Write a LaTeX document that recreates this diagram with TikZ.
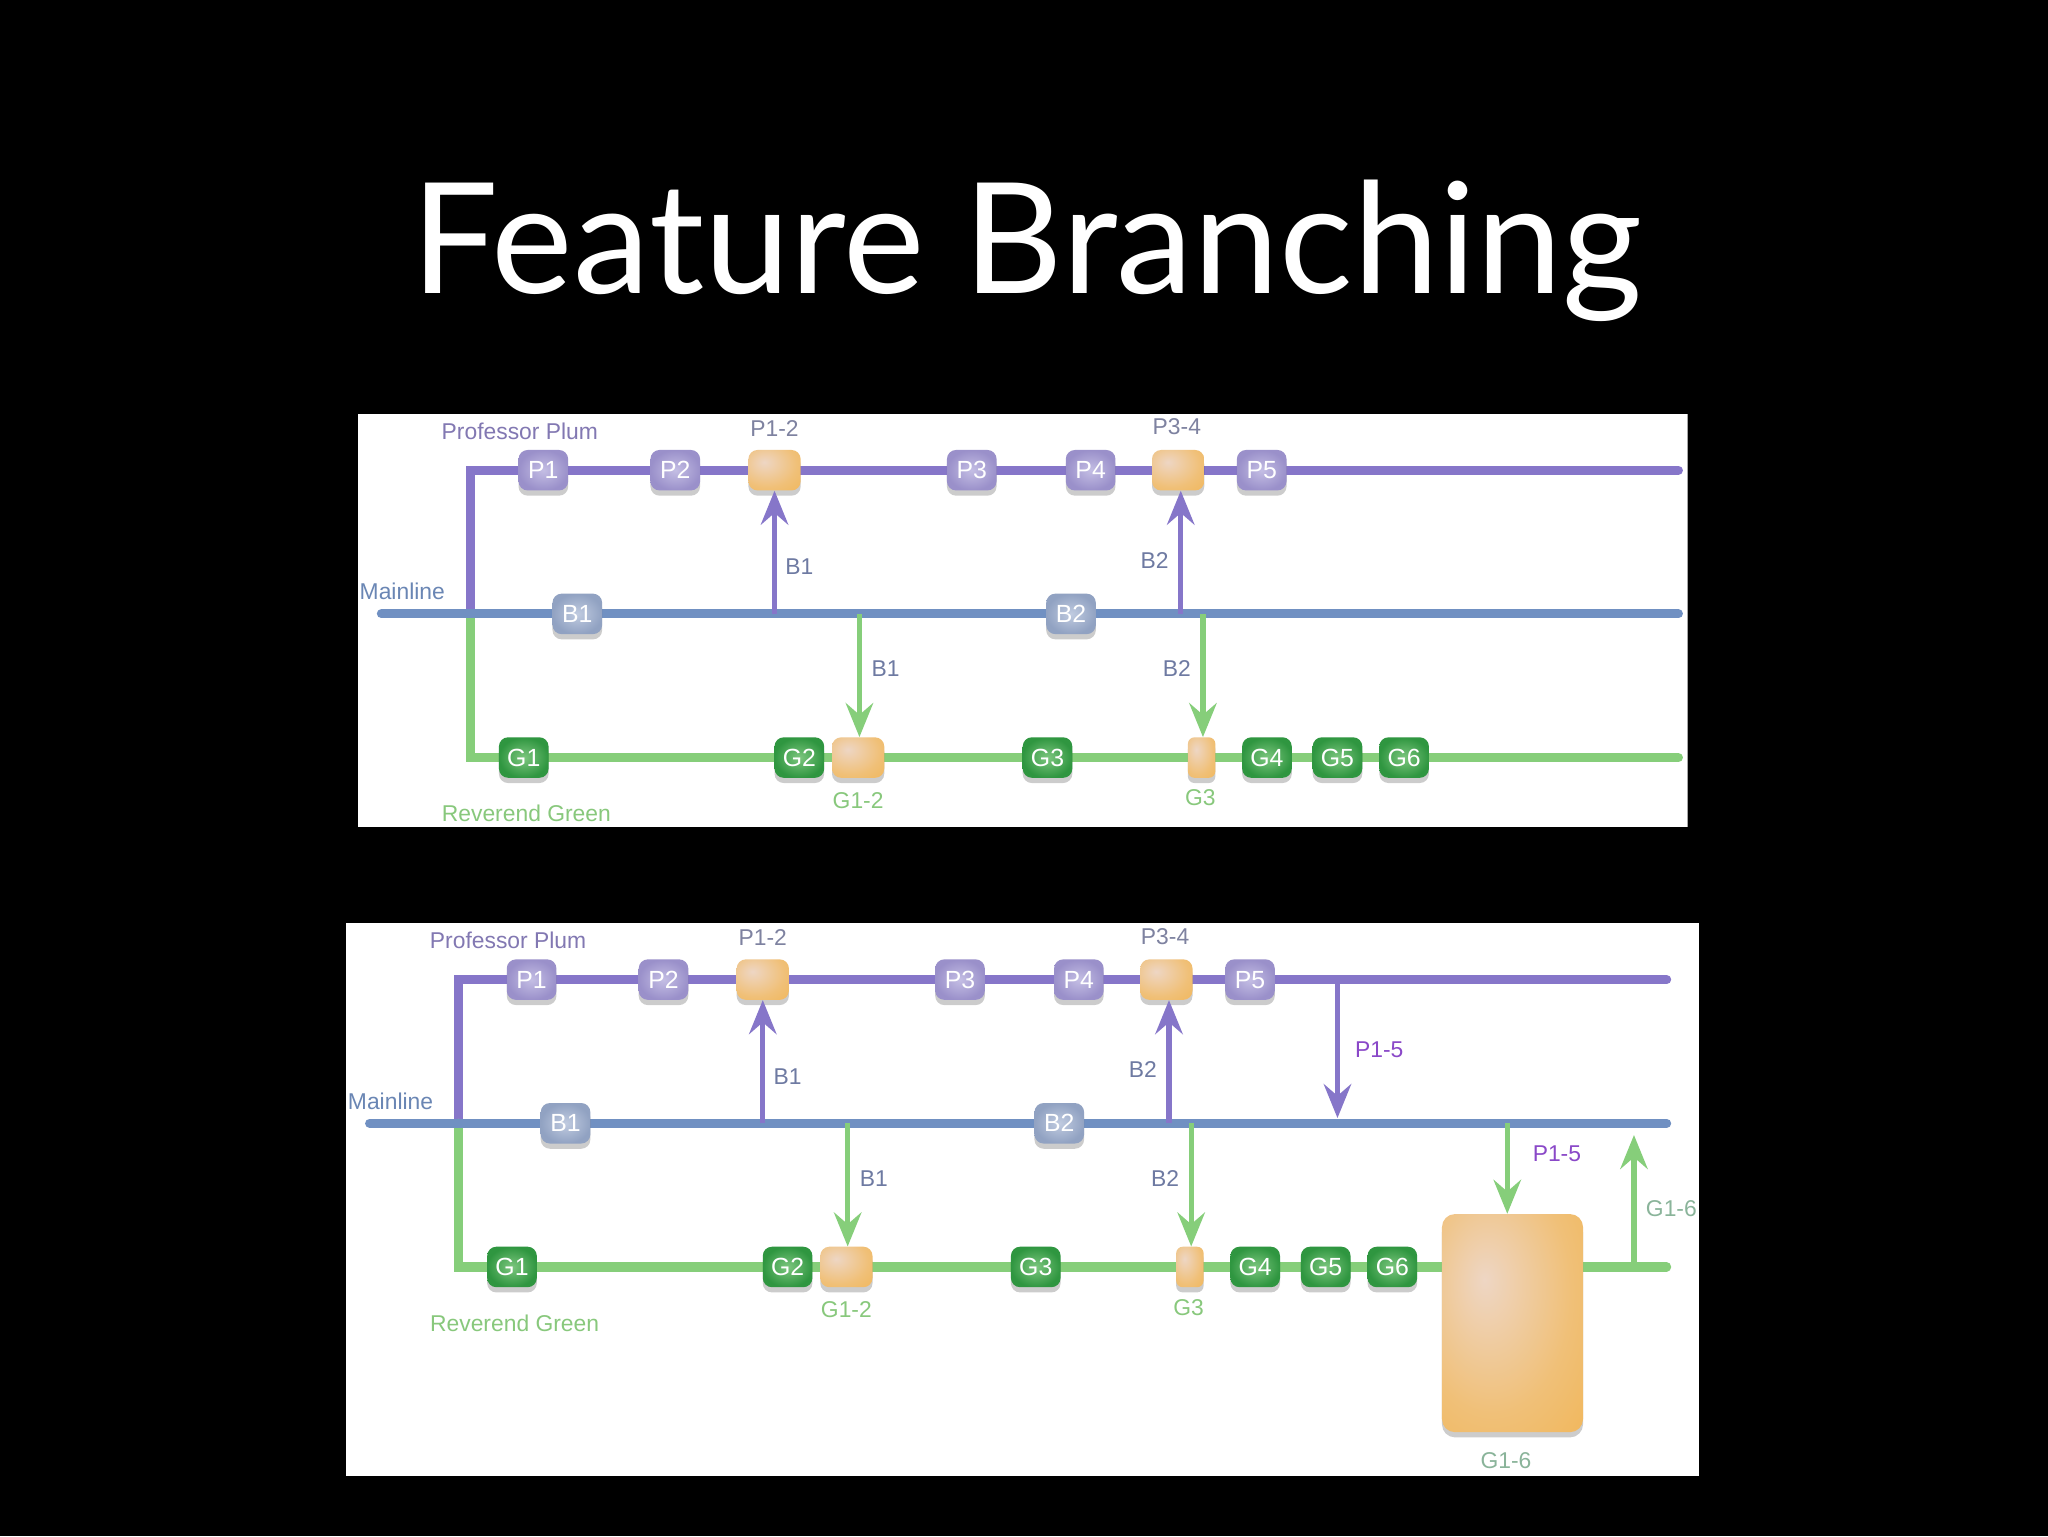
\documentclass[tikz,border=0pt]{standalone}
\usepackage{fontspec}
\setmainfont{Liberation Sans}
\newfontfamily\titlefont{Lato}
\usetikzlibrary{arrows.meta,shadows}
\definecolor{plumline}{HTML}{8676C9}
\definecolor{mainline}{HTML}{7090C2}
\definecolor{greenline}{HTML}{86CE7A}
\definecolor{pin}{HTML}{C4BEE4}
\definecolor{pout}{HTML}{9A90CA}
\definecolor{bin}{HTML}{C0CBE0}
\definecolor{bout}{HTML}{91A2C2}
\definecolor{gin}{HTML}{7CC67E}
\definecolor{gout}{HTML}{2F9640}
\definecolor{oin}{HTML}{EED6C4}
\definecolor{omid}{HTML}{F0C078}
\definecolor{oout}{HTML}{F2AE3E}
\definecolor{plumtext}{HTML}{8278B2}
\definecolor{maintext}{HTML}{6A86B4}
\definecolor{greentext}{HTML}{88C87C}
\definecolor{slatetext}{HTML}{6E7AA2}
\definecolor{greytext}{HTML}{7E82A0}
\definecolor{mergetext}{HTML}{8A48C8}
\definecolor{greygreen}{HTML}{8AB49A}
\pgfdeclareradialshading{orangeglow}{\pgfpoint{-10bp}{10bp}}{color(0bp)=(oin); color(28bp)=(omid); color(62bp)=(oout); color(100bp)=(oout)}
\tikzset{
  commit/.style={rounded corners=7pt, minimum width=38pt, minimum height=31pt,
    inner sep=0pt, text=white, font=\fontsize{19}{19}\selectfont,
    drop shadow={shadow xshift=0pt, shadow yshift=-4pt, opacity=0.2, fill=black}},
  pc/.style={commit, inner color=pin, outer color=pout},
  bc/.style={commit, inner color=bin, outer color=bout},
  gc/.style={commit, inner color=gin, outer color=gout},
  oc/.style={commit, shading=orangeglow},
  branchline/.style={line width=7pt, line join=miter, line cap=round},
  mergearrow/.style={line width=4pt, -{Stealth[length=26pt,width=21pt,inset=9pt]}},
  lab/.style={font=\fontsize{17.5}{17.5}\selectfont, inner sep=0pt},
  panel/.style={fill=white, draw=none}
}
\newcommand\basediagram[1]{%
  \coordinate (#1mstart) at (292,470);
  \coordinate (#1mend) at (1285,470);
  \coordinate (#1split) at (360,470);
  \coordinate (#1pcorner) at (360,360);
  \coordinate (#1pend) at (1285,360);
  \coordinate (#1gcorner) at (360,580);
  \coordinate (#1gend) at (1285,580);
  \draw[branchline, plumline] (#1split) -- (#1pcorner) -- (#1pend);
  \draw[branchline, greenline] (#1split) -- (#1gcorner) -- (#1gend);
  \draw[branchline, mainline] (#1mstart) -- (#1mend);
  \node[pc] (#1P1) at (416,360) {P1};
  \node[pc] (#1P2) at (517,360) {P2};
  \node[oc, minimum width=40pt] (#1P12) at (593,360) {};
  \node[pc] (#1P3) at (744,360) {P3};
  \node[pc] (#1P4) at (835,360) {P4};
  \node[oc, minimum width=40pt] (#1P34) at (902,360) {};
  \node[pc] (#1P5) at (966,360) {P5};
  \node[bc] (#1B1) at (442,470) {B1};
  \node[bc] (#1B2) at (820,470) {B2};
  \node[gc] (#1G1) at (401,580) {G1};
  \node[gc] (#1G2) at (612,580) {G2};
  \node[oc, minimum width=40pt] (#1G12) at (657,580) {};
  \node[gc] (#1G3) at (802,580) {G3};
  \node[oc, minimum width=21pt, rounded corners=5pt] (#1G3o) at (920,580) {};
  \node[gc] (#1G4) at (970,580) {G4};
  \node[gc] (#1G5) at (1024,580) {G5};
  \node[gc] (#1G6) at (1075,580) {G6};
  \coordinate (#1b1up) at (593,470);
  \coordinate (#1b1dn) at (658,470);
  \coordinate (#1b2up) at (904,470);
  \coordinate (#1b2dn) at (921,470);
  \draw[mergearrow, plumline] (#1b1up) -- (#1b1up |- #1P12.south);
  \draw[mergearrow, greenline] (#1b1dn) -- (#1b1dn |- #1G12.north);
  \draw[mergearrow, plumline] (#1b2up) -- (#1b2up |- #1P34.south);
  \draw[mergearrow, greenline] (#1b2dn) -- (#1b2dn |- #1G3o.north);
  \node[lab, text=plumtext] (#1lplum) at (398,330) {Professor Plum};
  \node[lab, text=maintext] (#1lmain) at (308,453) {Mainline};
  \node[lab, text=greentext] (#1lgreen) at (403,623) {Reverend Green};
  \node[lab, text=greytext] (#1lP12) at (593,328) {P1-2};
  \node[lab, text=greytext] (#1lP34) at (901,327) {P3-4};
  \node[lab, text=slatetext] (#1lb1a) at (612,434) {B1};
  \node[lab, text=slatetext] (#1lb1b) at (678,512) {B1};
  \node[lab, text=slatetext] (#1lb2a) at (884,429) {B2};
  \node[lab, text=slatetext] (#1lb2b) at (901,512) {B2};
  \node[lab, text=greentext] (#1lG12) at (657,613) {G1-2};
  \node[lab, text=greentext] (#1lG3) at (919,611) {G3};
}
\begin{document}
\begin{tikzpicture}[x=1pt,y=-1pt]
  \fill[black] (0,0) rectangle (1568,1176);
  \useasboundingbox (0,0) rectangle (1568,1176);
  \node[text=white, font=\titlefont\fontsize{118}{118}\selectfont, anchor=base, inner sep=0pt] (title) at (786,225) {Feature Branching};
  % top panel
  \begin{scope}
    \clip (274,317) rectangle (1292,633);
    \fill[panel] (274,317) rectangle (1292,633);
    \basediagram{t}
  \end{scope}
  % bottom panel
  \begin{scope}[shift={(-9,390)}]
    \clip (274,317) rectangle (1310,740);
    \fill[panel] (274,317) rectangle (1310,740);
    \basediagram{b}
    \coordinate (bp15) at (1033,360);
    \coordinate (bp15tip) at (1033,466);
    \coordinate (bg15) at (1163,470);
    \coordinate (bg16) at (1260,580);
    \coordinate (bg16tip) at (1260,479);
    \node[oc, minimum width=108pt, minimum height=167pt, rounded corners=10pt] (bG16) at (1167,623) {};
    \draw[mergearrow, plumline] (bp15) -- (bp15tip);
    \draw[mergearrow, greenline] (bg15) -- (bg15 |- bG16.north);
    \draw[mergearrow, greenline] (bg16) -- (bg16tip);
    \node[lab, text=mergetext] (blp15a) at (1065,414) {P1-5};
    \node[lab, text=mergetext] (blp15b) at (1201,493) {P1-5};
    \node[lab, text=greygreen] (blG16) at (1162,728) {G1-6};
    \node[lab, text=greygreen, anchor=west] (blG16b) at (1269,535) {G1-6};
  \end{scope}
\end{tikzpicture}
\end{document}
